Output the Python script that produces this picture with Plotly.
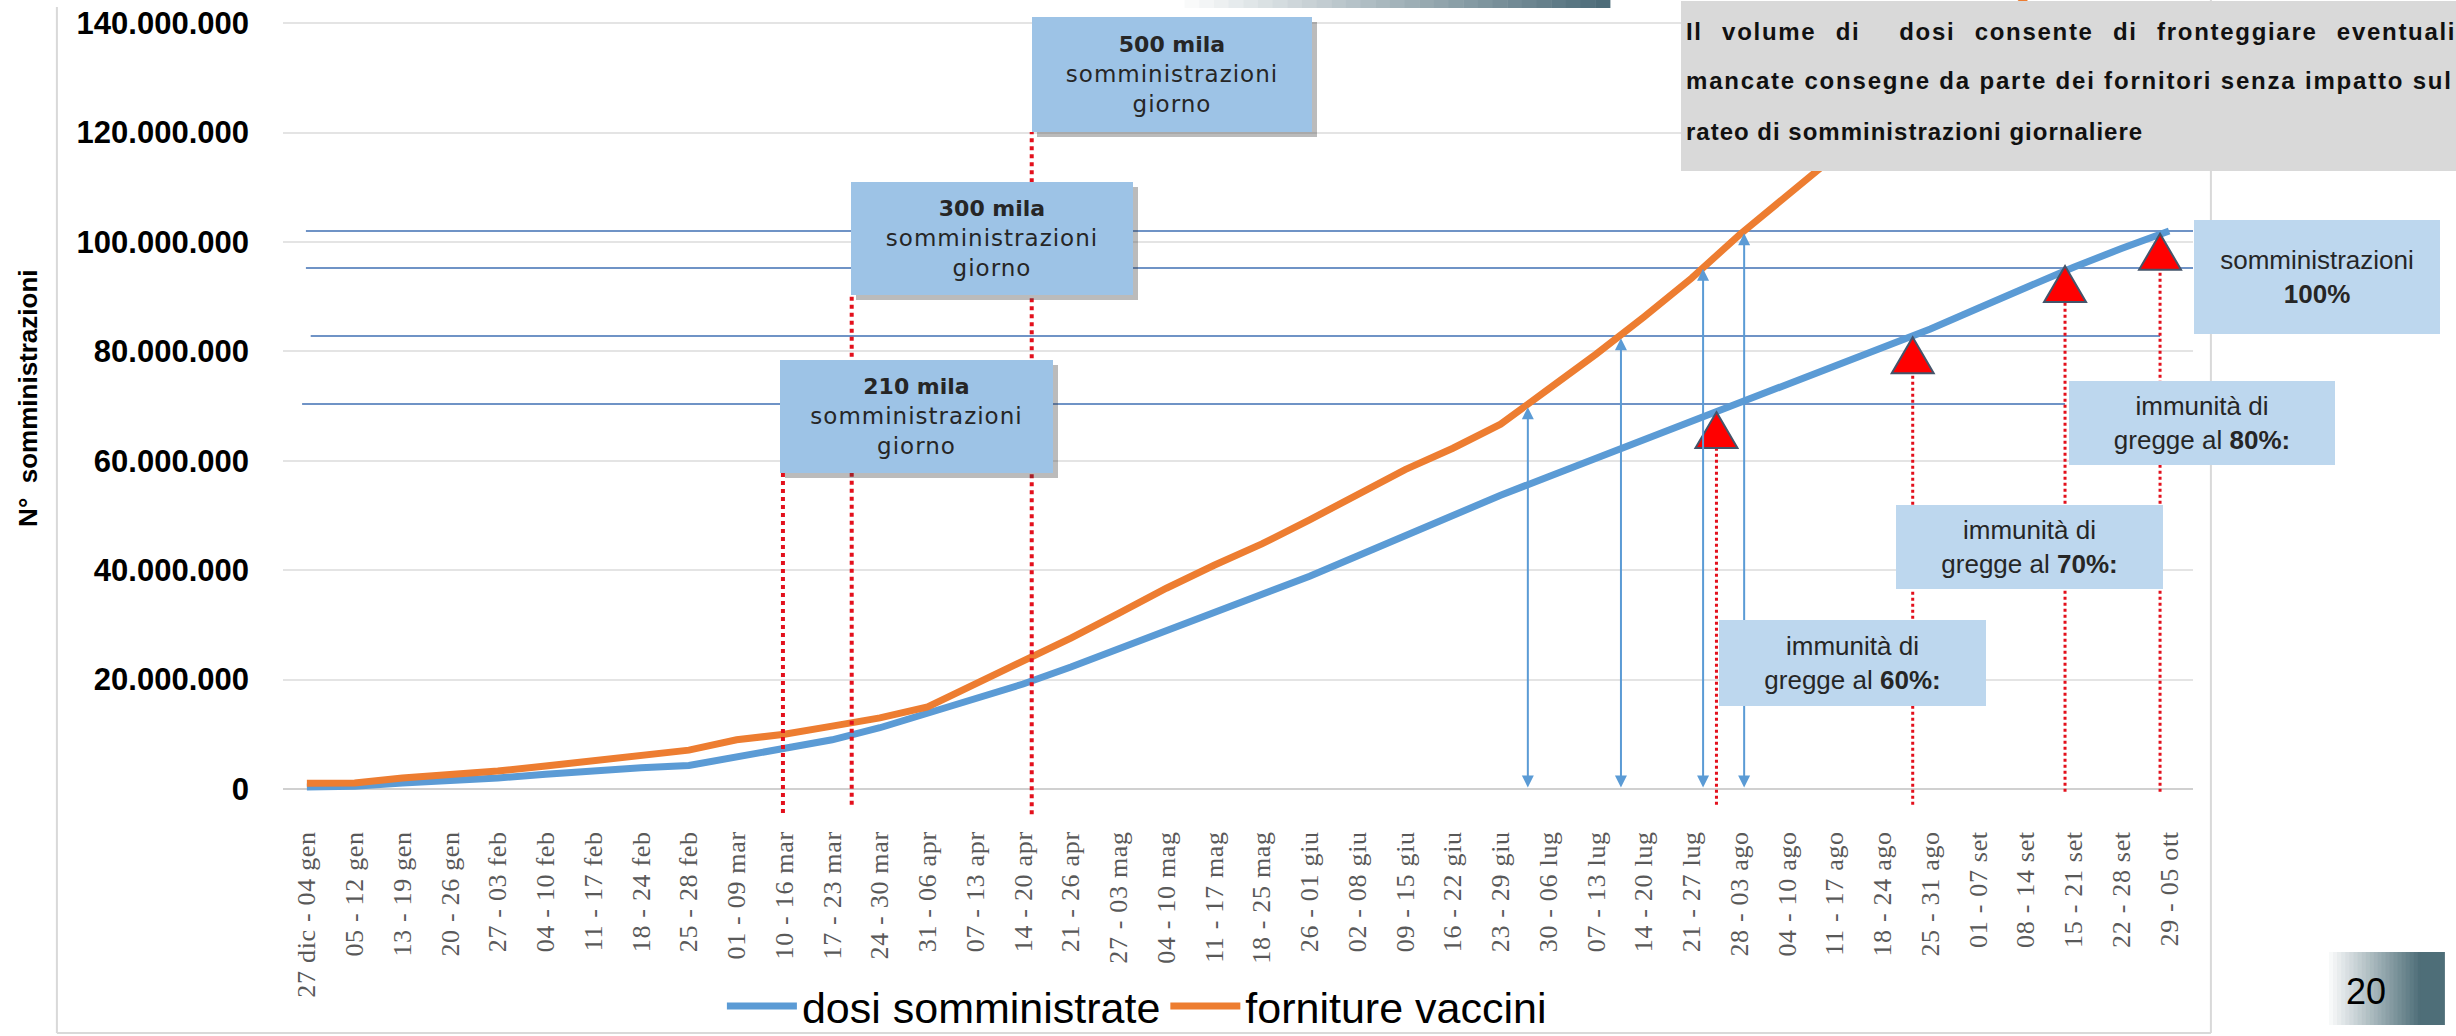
import plotly.graph_objects as go

# ---------------- data ----------------
weeks = ["27 dic - 04 gen", "05 - 12 gen", "13 - 19 gen", "20 - 26 gen", "27 - 03 feb",
         "04 - 10 feb", "11 - 17 feb", "18 - 24 feb", "25 - 28 feb", "01 - 09 mar",
         "10 - 16 mar", "17 - 23 mar", "24 - 30 mar", "31 - 06 apr", "07 - 13 apr",
         "14 - 20 apr", "21 - 26 apr", "27 - 03 mag", "04 - 10 mag", "11 - 17 mag",
         "18 - 25 mag", "26 - 01 giu", "02 - 08 giu", "09 - 15 giu", "16 - 22 giu",
         "23 - 29 giu", "30 - 06 lug", "07 - 13 lug", "14 - 20 lug", "21 - 27 lug",
         "28 - 03 ago", "04 - 10 ago", "11 - 17 ago", "18 - 24 ago", "25 - 31 ago",
         "01 - 07 set", "08 - 14 set", "15 - 21 set", "22 - 28 set", "29 - 05 ott"]

dosi_somministrate_mln = [0.35, 0.5, 1.1, 1.4, 2.0, 2.7, 3.4, 3.9, 4.3, 5.8,
                          7.3, 9.0, 11.2, 13.8, 16.5, 19.2, 22.3, 25.6, 28.9, 32.2,
                          35.5, 38.9, 42.6, 46.4, 50.1, 53.7, 57.1, 60.5, 63.8, 67.2,
                          70.5, 73.8, 77.2, 80.6, 84.1, 87.9, 91.7, 95.4, 98.8, 102.0]

forniture_vaccini_mln = [1.06, 1.1, 2.0, 2.6, 3.3, 4.2, 5.1, 6.2, 7.1, 9.0,
                         10.0, 11.5, 13.0, 15.0, 19.1, 23.3, 27.6, 32.1, 36.7, 40.9,
                         44.8, 49.2, 53.8, 58.4, 62.3, 66.7, 73.1, 79.5, 86.3, 93.4,
                         101.3, 108.5, 115.7, 122.9, 130.1, 137.3, 144.5]

series_names = ["dosi somministrate", "forniture vaccini"]

# reference levels / milestones (in millions, week index)
guide_levels_mln = [102.0, 95.25, 82.8, 70.4]
guide_start_week = [-0.02, -0.02, 0.08, -0.10]
guide_end_week = [39.5, 39.5, 38.81, 36.82]

arrow_weeks = [25.57, 27.52, 29.24, 30.10]
arrow_tops_mln = [69.8, 82.4, 95.1, 101.6]

herd_weeks = [29.52, 33.63, 36.82, 38.81]
herd_values_mln = [68.9, 82.6, 95.6, 101.5]
herd_line_bottom_mln = [-2.9, -2.9, -0.5, -0.5]
herd_labels = ["60%:", "70%:", "80%:"]

pace_weeks = [9.97, 11.41, 15.18]
pace_top_mln = [57.8, 90.3, 120.1]
pace_bottom_mln = [-4.4, -2.9, -4.6]
pace_labels = ["210 mila", "300 mila", "500 mila"]

M = 1e6
x_idx = list(range(len(weeks)))

# ---------------- geometry ----------------
W, H = 2456, 1036
L, R, T, B = 283.1, 2193.1, 0, 815
Y_MIN, Y_MAX = -4.753 * M, 144.24 * M
X_MIN, X_MAX = -0.5, len(weeks) - 0.5


def px_x(px):
    return (px - L) / (R - L)


def px_y(py):
    return (B - py) / (B - T)


def dp_x(xw):
    return (xw - X_MIN) / (X_MAX - X_MIN)


def dp_y(v):
    return (v - Y_MIN) / (Y_MAX - Y_MIN)


fig = go.Figure()
fig.add_trace(go.Scatter(x=x_idx, y=[v * M for v in dosi_somministrate_mln], mode="lines",
                         name=series_names[0], line=dict(color="#5B9BD5", width=7)))
fig.add_trace(go.Scatter(x=x_idx[:len(forniture_vaccini_mln)],
                         y=[v * M for v in forniture_vaccini_mln], mode="lines",
                         name=series_names[1], line=dict(color="#ED7D31", width=7)))

shapes = []
for lvl, x0, x1 in zip(guide_levels_mln, guide_start_week, guide_end_week):
    shapes.append(dict(type="line", xref="x", yref="y", x0=x0, x1=x1, y0=lvl * M, y1=lvl * M,
                       line=dict(color="#6F93C6", width=2), layer="between"))
for xw, top, bot in zip(pace_weeks, pace_top_mln, pace_bottom_mln):
    shapes.append(dict(type="line", xref="x", yref="y", x0=xw, x1=xw, y0=bot * M, y1=top * M,
                       line=dict(color="#E3101C", width=4, dash="dot"), layer="above"))
for xw, v, bot in zip(herd_weeks, herd_values_mln, herd_line_bottom_mln):
    shapes.append(dict(type="line", xref="x", yref="y", x0=xw, x1=xw, y0=bot * M, y1=(v - 4) * M,
                       line=dict(color="#E3101C", width=3, dash="dot"), layer="above"))
for xw, v in zip(herd_weeks, herd_values_mln):
    shapes.append(dict(type="path", xref="x", yref="y", xsizemode="pixel", ysizemode="pixel",
                       xanchor=xw, yanchor=v * M, path="M0,0 L21,-36 L-21,-36 Z",
                       fillcolor="#FF0000", line=dict(color="#44546A", width=2), layer="above"))


def gradient(x0, x1, y0, y1, c0, c1, n=30):
    out = []
    for i in range(n):
        t = i / (n - 1)
        c = tuple(round(a + (b - a) * t) for a, b in zip(c0, c1))
        xa = x0 + (x1 - x0) * i / n
        xb = x0 + (x1 - x0) * (i + 1) / n + 0.5
        out.append(dict(type="rect", xref="paper", yref="paper", x0=px_x(xa), x1=px_x(xb),
                        y0=px_y(y1), y1=px_y(y0), fillcolor="rgb(%d,%d,%d)" % c,
                        line=dict(width=0), layer="above"))
    return out


shapes += gradient(1170, 1610, 0, 8, (255, 255, 255), (77, 108, 121))
shapes += gradient(2325, 2422, 952, 1025, (255, 255, 255), (78, 110, 120), n=24)
shapes.append(dict(type="rect", xref="paper", yref="paper", x0=px_x(2421), x1=px_x(2445),
                   y0=px_y(1025), y1=px_y(952), fillcolor="rgb(78,110,120)", line=dict(width=0)))
for (xa, ya, xb, yb) in [(57, 7, 57, 1033), (2211, 0, 2211, 1033), (57, 1033, 2211, 1033)]:
    shapes.append(dict(type="line", xref="paper", yref="paper", x0=px_x(xa), x1=px_x(xb),
                       y0=px_y(ya), y1=px_y(yb), line=dict(color="#D9D9D9", width=2)))

ann = []
for xw, top in zip(arrow_weeks, arrow_tops_mln):
    ann.append(dict(x=xw, y=top * M, ax=xw, ay=0, xref="x", yref="y", axref="x", ayref="y",
                    text="", showarrow=True, arrowhead=2, arrowside="end+start", arrowsize=1.2,
                    arrowwidth=2, arrowcolor="#5B9BD5", standoff=0, startstandoff=0))


def box(x, y, w, h, text, bg, font, shadow=False):
    # x, y in paper coordinates (box centre)
    if shadow:
        ann.append(dict(x=x, y=y, xref="paper", yref="paper", xanchor="center", yanchor="middle",
                        text=" ", showarrow=False, width=w, height=h,
                        bgcolor="rgba(60,60,60,0.35)", xshift=5, yshift=-5,
                        borderpad=0, borderwidth=0))
    ann.append(dict(x=x, y=y, xref="paper", yref="paper", xanchor="center", yanchor="middle",
                    text=text, showarrow=False, width=w, height=h,
                    bgcolor=bg, borderpad=0, borderwidth=0, align="center", valign="middle",
                    font=font))


mila_font = dict(family="DejaVu Sans, Verdana, sans-serif", size=23, color="#262626")
pace_boxes = [(12.76, 68.1, 273, 113), (14.35, 100.6, 282, 113), (18.12, 130.6, 280, 115)]
for (cx, cy, w, h), lab in zip(pace_boxes, pace_labels):
    box(dp_x(cx), dp_y(cy * M), w, h,
        '<span style="font-size:22px"><b>%s</b></span><br>'
        '<span style="letter-spacing:1px">somministrazioni</span><br>'
        '<span style="letter-spacing:1px">giorno</span>' % lab,
        "#9DC3E6", mila_font, shadow=True)

herd_font = dict(family="Liberation Sans, Arial, sans-serif", size=26, color="#262626")
herd_boxes = [(32.37, 23.0, 267, 86), (36.07, 44.2, 267, 84), (39.69, 66.9, 266, 84)]
for (cx, cy, w, h), pct in zip(herd_boxes, herd_labels):
    box(dp_x(cx), dp_y(cy * M), w, h, "immunità di<br>gregge al <b>%s</b>" % pct,
        "#BDD7EE", herd_font)
box(dp_x(42.09), dp_y(93.6 * M), 246, 114, "somministrazioni<br><b>100%</b>", "#BDD7EE", herd_font)

# grey note box
box(px_x(2068.5), px_y(86), 775, 170, " ", "#D9D9D9", herd_font)
note_lines = [
    ("Il volume di  dosi consente di fronteggiare eventuali", 31,
     "letter-spacing:1.7px;word-spacing:11px"),
    ("mancate consegne da parte dei fornitori senza impatto sul", 81, "letter-spacing:1.8px"),
    ("rateo di somministrazioni giornaliere", 132, "letter-spacing:1px"),
]
for txt, ypx, sty in note_lines:
    ann.append(dict(x=px_x(1684), y=px_y(ypx), xref="paper", yref="paper", xanchor="left",
                    yanchor="middle", showarrow=False,
                    text='<span style="%s">%s</span>' % (sty, txt.replace("  ", " \u00a0")),
                    font=dict(family="Liberation Sans, Arial, sans-serif", size=24, color="#111111",
                              weight="bold")))

ann.append(dict(x=px_x(28), y=px_y(398), xref="paper", yref="paper", xanchor="center",
                yanchor="middle", showarrow=False, textangle=-90, text="N°\u00a0 somministrazioni",
                font=dict(family="Liberation Sans, Arial, sans-serif", size=26, color="#000000",
                          weight="bold")))
ann.append(dict(x=px_x(2366), y=px_y(991), xref="paper", yref="paper", xanchor="center",
                yanchor="middle", showarrow=False, text="20",
                font=dict(family="Liberation Sans, Arial, sans-serif", size=36, color="#000000")))

tick_text = ['<span style="letter-spacing:0.7px">%s</span>' % w for w in weeks]

fig.update_layout(
    width=W, height=H,
    margin=dict(l=L, r=W - R, t=T, b=H - B, pad=0, autoexpand=False),
    paper_bgcolor="white", plot_bgcolor="white",
    separators=",.",
    showlegend=True,
    legend=dict(orientation="h", x=px_x(722), y=px_y(1006), xanchor="left", yanchor="middle",
                font=dict(family="Liberation Sans, Arial, sans-serif", size=43, color="#000000"),
                itemwidth=70, bgcolor="rgba(0,0,0,0)"),
    xaxis=dict(range=[X_MIN, X_MAX], tickmode="array", tickvals=x_idx, ticktext=tick_text,
               tickangle=-90, showgrid=False, zeroline=False, showline=False, ticks="",
               ticklabelstandoff=10,
               tickfont=dict(family="Liberation Serif, Times New Roman, serif", size=26,
                             color="#595959")),
    yaxis=dict(range=[Y_MIN, Y_MAX], tick0=0, dtick=20 * M, tickformat=",d",
               showgrid=True, gridcolor="#E4E4E4", gridwidth=2,
               zeroline=True, zerolinecolor="#D0D0D0", zerolinewidth=2, showline=False,
               ticks="", ticklabelstandoff=33,
               tickfont=dict(family="Liberation Sans, Arial, sans-serif", size=31,
                             color="#000000", weight="bold")),
    shapes=shapes,
    annotations=ann,
)

fig.write_html("out.html", config={"displayModeBar": False},
               post_script="document.body.style.margin='0px';document.body.style.overflow='hidden';")
